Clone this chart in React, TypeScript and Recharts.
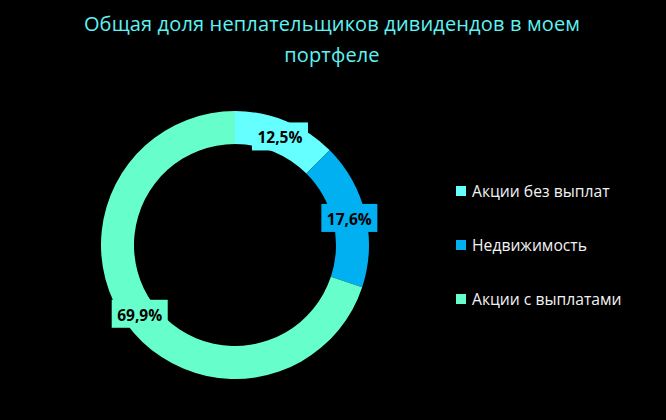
import React from 'react';
import { PieChart, Pie, Cell, Legend } from 'recharts';

const categories = ['Акции без выплат', 'Недвижимость', 'Акции с выплатами'];
const values = [12.5, 17.6, 69.9];
const valueLabels = ['12,5%', '17,6%', '69,9%'];
const colors = ['#66FFFF', '#00B0F0', '#66FFCC'];
const titleLines = ['Общая доля неплательщиков дивидендов в моем', 'портфеле'];

const data = categories.map((name, i) => ({ name, value: values[i], label: valueLabels[i] }));

const RAD = Math.PI / 180;
const FONT = '"Open Sans", "Noto Sans", sans-serif';

const renderLabel = (props: any) => {
  const { cx, cy, midAngle, innerRadius, outerRadius, index } = props;
  const r = (innerRadius + outerRadius) / 2;
  const x = cx + r * Math.cos(-midAngle * RAD);
  const y = cy + r * Math.sin(-midAngle * RAD);
  const w = 56;
  const h = 28;
  return (
    <g key={`lbl-${index}`}>
      <rect x={x - w / 2} y={y - h / 2} width={w} height={h} fill={colors[index]} />
      <text
        x={x}
        y={y + 1}
        textAnchor="middle"
        dominantBaseline="central"
        fill="#000000"
        fontFamily={FONT}
        fontWeight={700}
        fontSize={15.5}
      >
        {valueLabels[index]}
      </text>
    </g>
  );
};

const LegendContent = () => (
  <div style={{ fontFamily: FONT }}>
    {categories.map((c, i) => (
      <div key={c} style={{ display: 'flex', alignItems: 'center', height: 54 }}>
        <div style={{ width: 10, height: 10, background: colors[i], marginRight: 6 }} />
        <span style={{ color: '#F2F2F2', fontSize: 15.7 }}>{c}</span>
      </div>
    ))}
  </div>
);

export default function App() {
  return (
    <div style={{ position: 'fixed', left: 0, top: 0, width: 666, height: 420, background: '#000000', overflow: 'hidden' }}>
      <div
        style={{
          position: 'absolute',
          left: 0,
          top: 7.5,
          width: 664,
          textAlign: 'center',
          color: '#5FF2F2',
          fontFamily: FONT,
          fontSize: 20,
          lineHeight: '31px',
          letterSpacing: 0.15,
        }}
      >
        <div>{titleLines[0]}</div>
        <div>{titleLines[1]}</div>
      </div>
      <PieChart
        width={666}
        height={420}
        margin={{ top: 0, right: 0, bottom: 0, left: 0 }}
        style={{ position: 'absolute', left: 0, top: 0 }}
      >
        <Pie
          data={data}
          dataKey="value"
          nameKey="name"
          cx={235}
          cy={245}
          innerRadius={101}
          outerRadius={134}
          startAngle={90}
          endAngle={-270}
          stroke="none"
          label={renderLabel}
          labelLine={false}
          isAnimationActive={false}
        >
          {data.map((d, i) => (
            <Cell key={d.name} fill={colors[i]} />
          ))}
        </Pie>
        <Legend
          content={<LegendContent />}
          wrapperStyle={{ position: 'absolute', left: 456, top: 164, width: 200 }}
        />
      </PieChart>
    </div>
  );
}
